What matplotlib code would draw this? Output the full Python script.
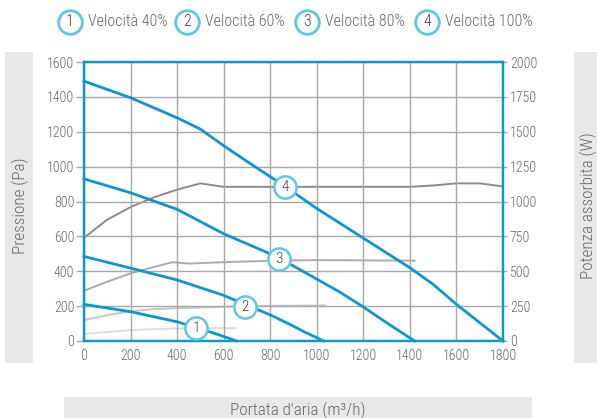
import matplotlib
matplotlib.use("Agg")
import matplotlib.pyplot as plt
from matplotlib.patches import Rectangle
from matplotlib.lines import Line2D

plt.rcParams['font.family'] = ['Roboto Condensed', 'DejaVu Sans']
plt.rcParams['font.weight'] = 'light'

# Pressure curves (Pa) vs airflow (m3/h)
p1_x = [0, 200, 400, 500, 580, 655]
p1_y = [210, 168, 110, 70, 35, 0]
p2_x = [0, 200, 400, 600, 700, 800, 900, 950, 1030]
p2_y = [485, 418, 350, 262, 205, 150, 85, 50, 0]
p3_x = [0, 200, 400, 600, 800, 900, 1000, 1100, 1200, 1300, 1420]
p3_y = [930, 850, 755, 615, 500, 430, 355, 280, 195, 105, 0]
p4_x = [0, 200, 400, 500, 600, 700, 860, 1000, 1200, 1400, 1500, 1600, 1700, 1800]
p4_y = [1490, 1395, 1280, 1215, 1120, 1030, 890, 760, 590, 420, 325, 210, 105, 0]

# Absorbed power curves (W)
w1_x = [0, 100, 200, 300, 400, 500, 656]
w1_y = [50, 65, 78, 85, 90, 92, 92]
w2_x = [0, 100, 200, 300, 400, 600, 800, 1040]
w2_y = [150, 185, 215, 228, 235, 245, 252, 255]
w3_x = [0, 100, 200, 300, 380, 450, 600, 800, 1000, 1200, 1425]
w3_y = [360, 425, 485, 530, 565, 555, 565, 575, 580, 578, 576]
w4_x = [0, 100, 200, 300, 400, 500, 600, 800, 1000, 1200, 1400, 1500, 1600, 1700, 1800]
w4_y = [740, 870, 960, 1030, 1085, 1130, 1105, 1105, 1105, 1105, 1105, 1115, 1130, 1130, 1108]

# Curve labels (positions on pressure axis)
lab_names = ['1', '2', '3', '4']
lab_x = [481, 692, 839, 863]
lab_y = [76, 197, 470, 883]

legend_labels = ['Velocità 40%', 'Velocità 60%', 'Velocità 80%', 'Velocità 100%']

x_ticks = list(range(0, 1801, 200))
yl_ticks = list(range(0, 1601, 200))
yr_ticks = list(range(0, 2001, 250))

BLUE = '#0b96d8'
RING = '#5cc6ef'
TXT = '#666666'
GRID = '#a8a8a8'
BOX = '#e8e8ea'

W, H = 597, 418
fig = plt.figure(figsize=(W / 100, H / 100), dpi=100)

def fbox(x0, y0, x1, y1):
    fig.add_artist(Rectangle((x0 / W, 1 - y1 / H), (x1 - x0) / W, (y1 - y0) / H,
                             transform=fig.transFigure, facecolor=BOX, edgecolor='none', zorder=0))

fbox(5, 52, 33, 363)
fbox(574, 52, 600, 363)
fbox(64, 397, 532, 420)
fig.text(20 / W, 1 - 206 / H, 'Pressione (Pa)', rotation=90, ha='center', va='center', color=TXT, fontsize=12.3)
fig.text(588 / W, 1 - 206 / H, 'Potenza assorbita (W)', rotation=90, ha='center', va='center', color=TXT, fontsize=12.3)
fig.text(298 / W, 1 - 410 / H, "Portata d'aria (m³/h)", ha='center', va='center', color=TXT, fontsize=12.3)

ax = fig.add_axes([84 / W, 1 - 341 / H, (503 - 84) / W, (341 - 62) / H])
ax.set_xlim(0, 1800)
ax.set_ylim(0, 1600)
ax.set_xticks(x_ticks)
ax.set_yticks(yl_ticks)
ax.grid(True, color=GRID, lw=1.0)
ax.set_axisbelow(True)
for s in ax.spines.values():
    s.set_color(BLUE)
    s.set_linewidth(1.6)
ax.tick_params(axis='y', colors=TXT, labelsize=10, length=6, width=1.0, pad=1)
ax.tick_params(axis='y', color=GRID)
ax.tick_params(axis='x', colors=TXT, labelsize=10, length=0, pad=6)

ax2 = ax.twinx()
ax2.set_ylim(0, 2000)
ax2.set_yticks(yr_ticks)
ax2.tick_params(colors=TXT, labelsize=10, length=3, width=1.0, pad=2)
ax2.tick_params(axis='y', color=GRID)
for s in ax2.spines.values():
    s.set_color(BLUE)
    s.set_linewidth(1.6)

for xs, ys, c in [(w1_x, w1_y, '#dcdcdc'), (w2_x, w2_y, '#c6c6c6'),
                  (w3_x, w3_y, '#acacac'), (w4_x, w4_y, '#8c8c8c')]:
    ax2.plot(xs, ys, color=c, lw=1.4, solid_capstyle='butt', zorder=2)

for xs, ys in [(p1_x, p1_y), (p2_x, p2_y), (p3_x, p3_y), (p4_x, p4_y)]:
    ax.plot(xs, ys, color=BLUE, lw=2.0, zorder=3, clip_on=False)

ax.set_zorder(ax2.get_zorder() + 1)
ax.patch.set_visible(False)

for n, x, y in zip(lab_names, lab_x, lab_y):
    ax.plot([x], [y], marker='o', ms=16, mfc='white', mec=RING, mew=1.8, zorder=5)
    ax.text(x, y, n, ha='center', va='center', color='#444444', fontsize=11, zorder=6)

leg_cx = [70, 187, 307, 427]
for n, lbl, cx in zip(lab_names, legend_labels, leg_cx):
    fig.add_artist(Line2D([cx / W], [1 - 21.5 / H], marker='o', ms=17, mfc='white', mec=RING, mew=2.0,
                          transform=fig.transFigure))
    fig.text(cx / W, 1 - 21.5 / H, n, ha='center', va='center', color='#444444', fontsize=11.5)
    fig.text((cx + 18) / W, 1 - 21.5 / H, lbl, ha='left', va='center', color=TXT, fontsize=11.5)

fig.savefig('out.png', dpi=100)
